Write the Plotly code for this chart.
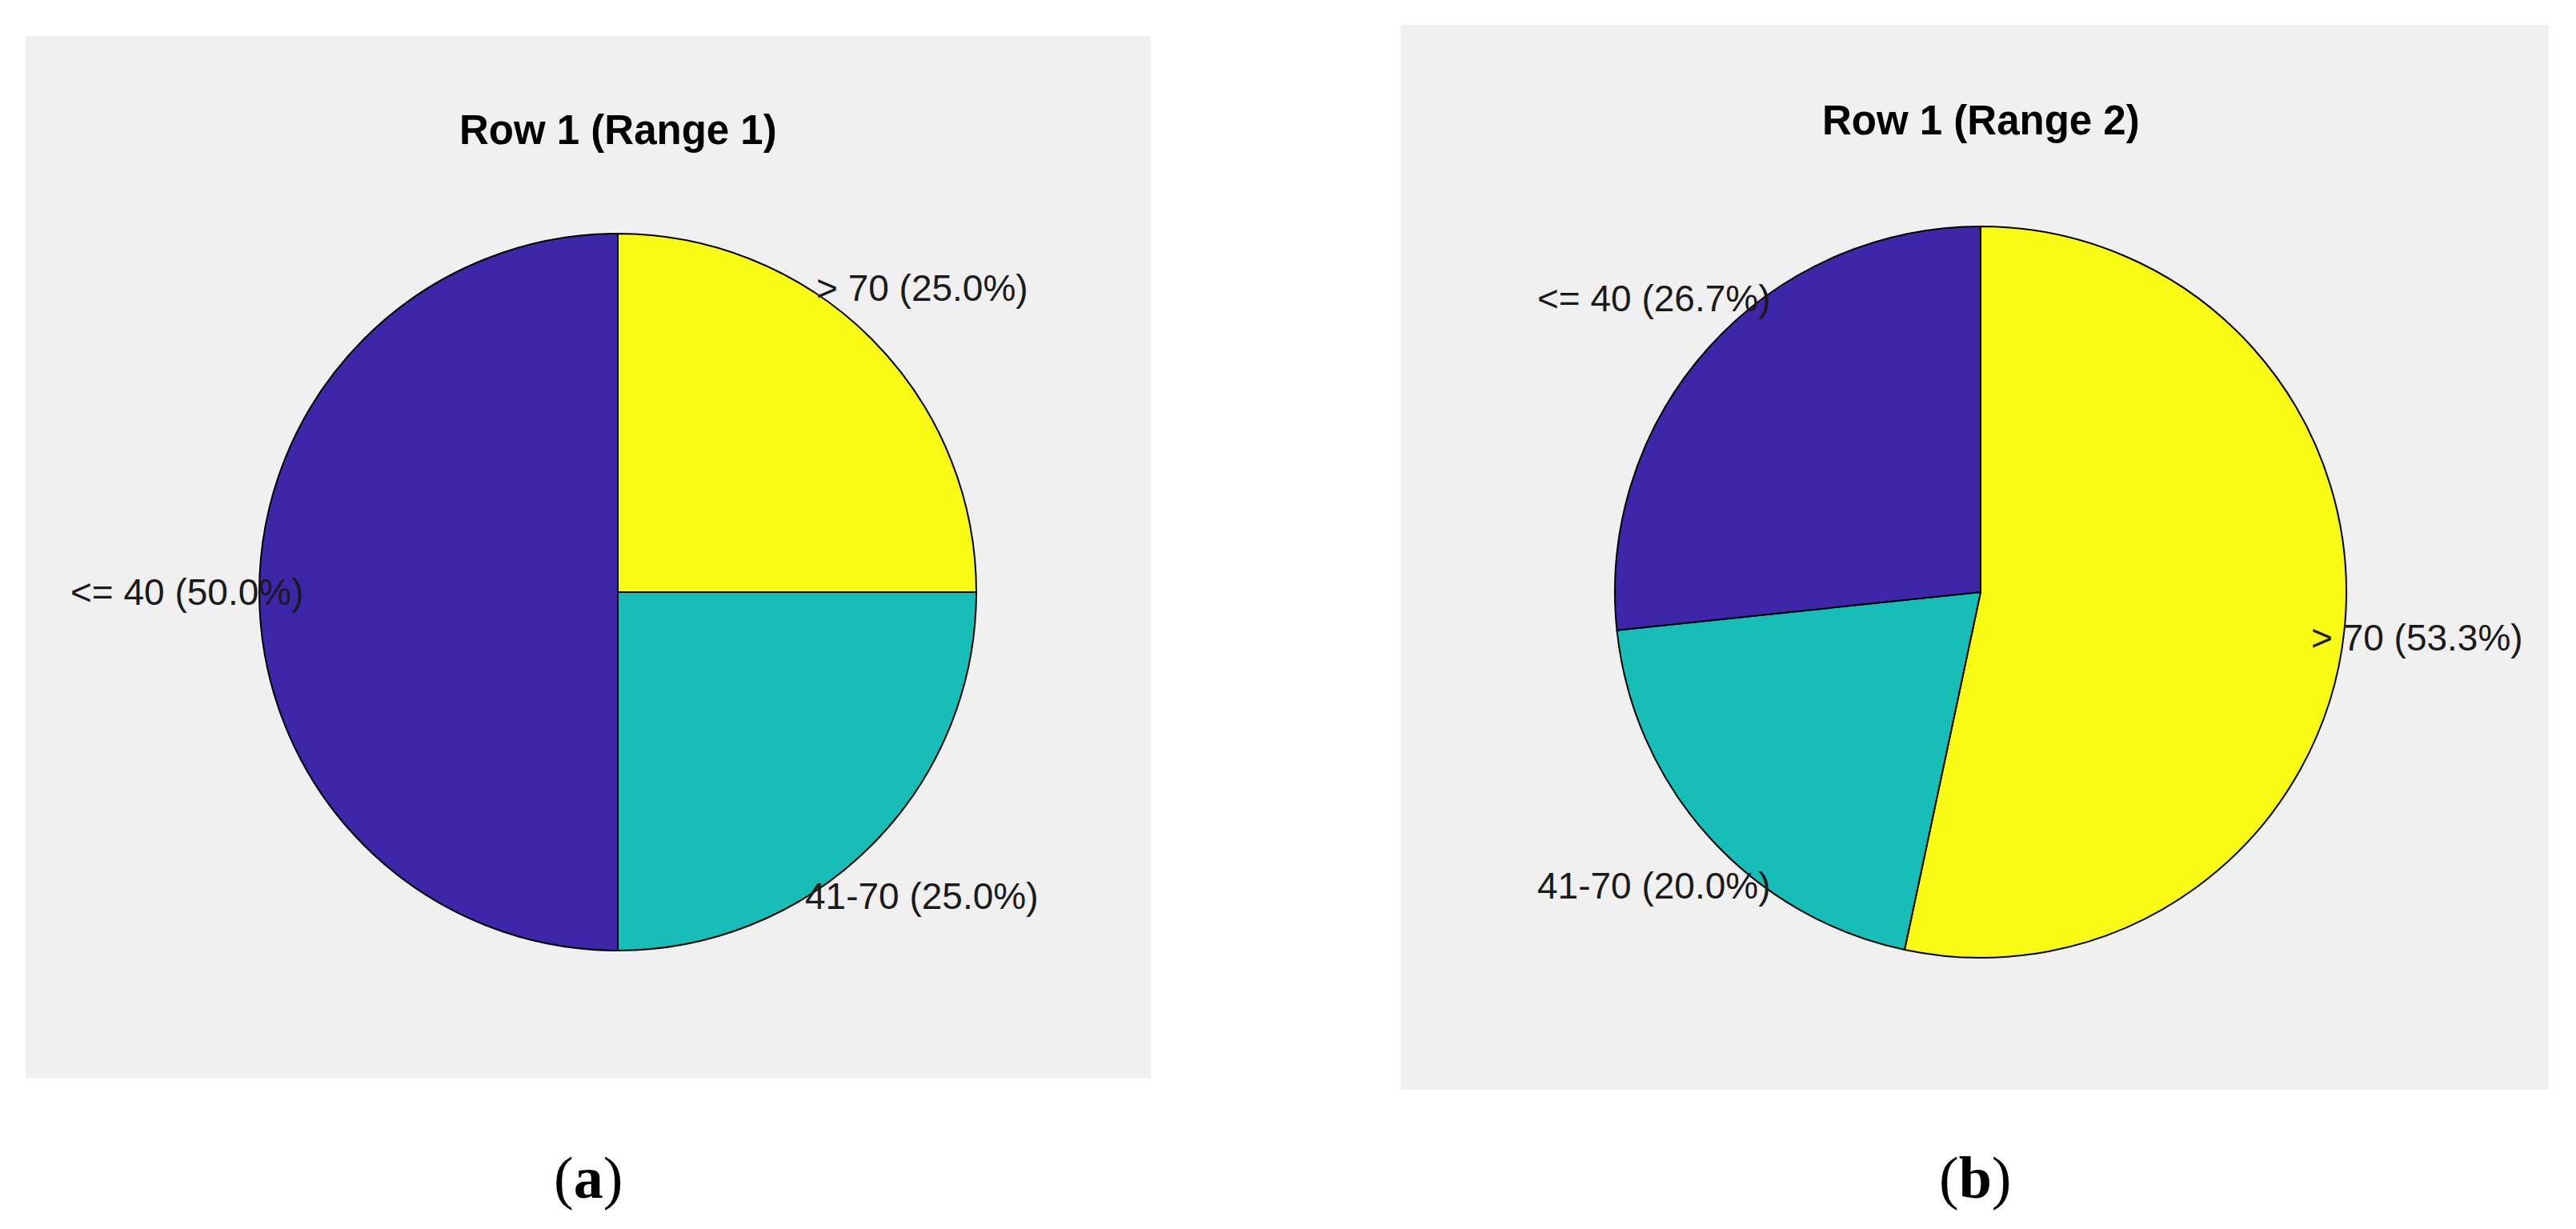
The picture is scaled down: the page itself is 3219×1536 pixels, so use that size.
import math
import plotly.graph_objects as go

W, H = 3219, 1536

labels = ["<= 40", "41-70", "> 70"]
counts_a = [2, 1, 1]
counts_b = [4, 3, 8]
titles = ["Row 1 (Range 1)", "Row 1 (Range 2)"]
captions = ["a", "b"]
colors = ["#3E26A8", "#17BEB8", "#F9FB15"]

# panel layout in pixels: grey box, pie centre, radius, title y, caption x
panels = [
    dict(box=(32, 45, 1438, 1348), cx=772, cy=740, r=448, ty=163, capx=735),
    dict(box=(1750, 31, 3185, 1362), cx=2475, cy=740, r=457, ty=150, capx=2468),
]
cap_y = 1472

fig = go.Figure()
shapes, annots = [], []

for counts, title, cap, p in zip([counts_a, counts_b], titles, captions, panels):
    x0, y0, x1, y1 = p["box"]
    shapes.append(dict(type="rect", xref="paper", yref="paper", layer="below",
                       x0=x0 / W, x1=x1 / W, y0=1 - y1 / H, y1=1 - y0 / H,
                       fillcolor="#F0F0F0", line=dict(width=0)))
    cx, cy, r = p["cx"], p["cy"], p["r"]
    # MATLAB pie goes counterclockwise from 12 o'clock -> same as reversed order clockwise
    fig.add_trace(go.Pie(
        labels=labels[::-1], values=counts[::-1], sort=False, direction="clockwise",
        rotation=0,
        marker=dict(colors=colors[::-1], line=dict(color="black", width=2)),
        textinfo="none", hoverinfo="label+percent", showlegend=False,
        domain=dict(x=[(cx - r) / W, (cx + r) / W],
                    y=[1 - (cy + r) / H, 1 - (cy - r) / H]),
    ))
    total = sum(counts)
    cum = 0
    for lab, v in zip(labels, counts):
        mid = math.radians(90 + 360 * (cum + v / 2) / total)
        cum += v
        lx = cx + 1.2 * r * math.cos(mid)
        ly = cy - 1.2 * r * math.sin(mid)
        annots.append(dict(x=lx / W, y=1 - ly / H, xref="paper", yref="paper",
                           text=f"{lab} ({100 * v / total:.1f}%)", showarrow=False,
                           xanchor="center", yanchor="middle",
                           font=dict(family="Liberation Sans, Arial", size=46, color="#1a1a1a")))
    annots.append(dict(x=cx / W, y=1 - p["ty"] / H, xref="paper", yref="paper",
                       text=f"<b>{title}</b>", showarrow=False, xanchor="center", yanchor="middle",
                       font=dict(family="Liberation Sans, Arial", size=51, color="black")))
    annots.append(dict(x=p["capx"] / W, y=1 - cap_y / H, xref="paper", yref="paper",
                       text=f"(<b>{cap}</b>)", showarrow=False, xanchor="center", yanchor="middle",
                       font=dict(family="Liberation Serif, Times New Roman", size=74, color="black")))

fig.update_layout(width=W, height=H, margin=dict(l=0, r=0, t=0, b=0),
                  paper_bgcolor="white", plot_bgcolor="white",
                  shapes=shapes, annotations=annots)

# drop the browser's default 8px body margin so pixel positions line up
fig.write_html("out.html", config={"displayModeBar": False},
               post_script="document.body.style.margin='0';")
